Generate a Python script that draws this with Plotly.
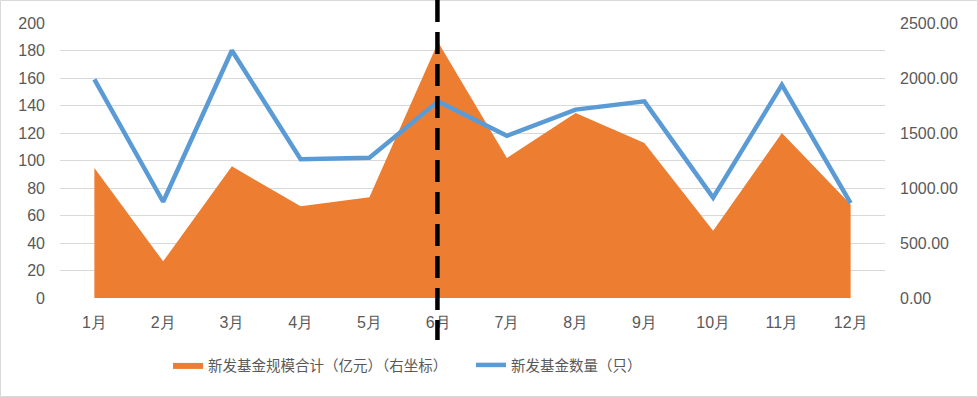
import plotly.graph_objects as go

months = ["1月", "2月", "3月", "4月", "5月", "6月", "7月", "8月", "9月", "10月", "11月", "12月"]
fund_scale = [1182, 333, 1197, 833, 915, 2324, 1273, 1682, 1409, 612, 1500, 850]   # 亿元, right axis
fund_count = [159, 70, 180, 101, 102, 143, 118, 137, 143, 73, 155, 69]              # 只, left axis
scale_name = "新发基金规模合计（亿元）（右坐标）"
count_name = "新发基金数量（只）"
marker_month = "6月"

W, H = 978, 397
L, R, T, B = 60, 93, 23, 99
pw, ph = W - L - R, H - T - B

def px_x(x):
    return (x - L) / pw

def px_y(y):
    return (H - B - y) / ph

tick_font = dict(family="Liberation Sans, Arial", size=16, color="#595959")

fig = go.Figure()
fig.add_trace(go.Scatter(
    x=months, y=fund_scale, name=scale_name, mode="lines",
    fill="tozeroy", fillcolor="#ED7D31", line=dict(width=0, color="#ED7D31"),
    yaxis="y",
))
fig.add_trace(go.Scatter(
    x=months, y=fund_count, name=count_name, mode="lines",
    line=dict(color="#5B9BD5", width=4.5),
    yaxis="y2",
))

mi = months.index(marker_month)
fig.add_shape(type="line", xref="x", yref="paper", x0=mi - 0.01, x1=mi - 0.01,
              y0=px_y(0), y1=px_y(340),
              line=dict(color="black", width=4.5, dash="22px,10px"), layer="above")
fig.add_shape(type="rect", xref="paper", yref="paper",
              x0=px_x(0.5), x1=px_x(W - 0.5), y0=px_y(0.5), y1=px_y(H - 0.5),
              line=dict(color="#d9d9d9", width=1), layer="below")

fig.update_layout(
    width=W, height=H,
    margin=dict(l=L, r=R, t=T, b=B, autoexpand=False),
    paper_bgcolor="white", plot_bgcolor="white",
    showlegend=True,
    legend=dict(orientation="h", x=px_x(168), xanchor="left", y=px_y(365), yanchor="middle",
                font=dict(family="Noto Sans CJK SC", size=14.5, color="#595959"),
                entrywidth=258, entrywidthmode="pixels", bgcolor="rgba(0,0,0,0)"),
    xaxis=dict(type="category", range=[-0.5, len(months) - 0.5], showgrid=False,
               showline=False, ticks="", tickfont=tick_font, ticklabelstandoff=13),
    yaxis=dict(side="right", range=[0, 2500], dtick=500, tickformat=".2f",
               showgrid=True, gridcolor="#d9d9d9", gridwidth=1,
               minor=dict(dtick=250, showgrid=True, gridcolor="#d9d9d9", gridwidth=1, ticks=""),
               zeroline=False, showline=False, tickfont=tick_font, ticklabelstandoff=14),
    yaxis2=dict(side="left", overlaying="y", range=[0, 200], dtick=20,
                showgrid=False, zeroline=False, showline=False, tickfont=tick_font,
                ticklabelstandoff=14),
)

fig.write_html("out.html", config={"displayModeBar": False},
               post_script="document.body.style.margin='0';")
